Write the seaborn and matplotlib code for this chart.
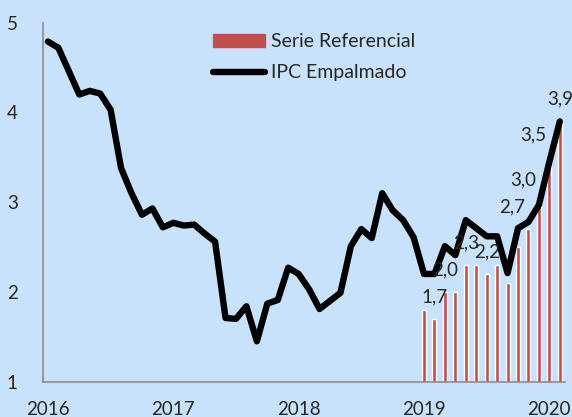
import numpy as np
import pandas as pd
import matplotlib
matplotlib.use("Agg")
import matplotlib.pyplot as plt
import seaborn as sns
from matplotlib.patches import Patch
from matplotlib.lines import Line2D

# === data ===
months = pd.date_range("2016-01-01", "2020-02-01", freq="MS")
ipc_empalmado = [
    4.79, 4.72, 4.46, 4.20, 4.24, 4.21, 4.03, 3.38, 3.10, 2.86, 2.93, 2.72,
    2.77, 2.74, 2.75, 2.65, 2.56, 1.71, 1.70, 1.84, 1.45, 1.87, 1.91, 2.27,
    2.20, 2.03, 1.81, 1.90, 1.99, 2.51, 2.70, 2.60, 3.10, 2.91, 2.80, 2.61,
    2.20, 2.20, 2.51, 2.41, 2.80, 2.71, 2.62, 2.62, 2.21, 2.71, 2.78, 2.97,
    3.45, 3.90,
]
ref_months = pd.date_range("2019-01-01", "2020-02-01", freq="MS")
serie_referencial = [1.8, 1.7, 2.0, 2.0, 2.3, 2.3, 2.2, 2.3, 2.1, 2.5, 2.7, 3.0, 3.5, 3.9]
label_months = ["2019-02", "2019-03", "2019-05", "2019-07", "2019-11", "2019-12", "2020-01", "2020-02"]
label_shift = [0, 0, 0, 0, -16, -16, -16, 0]  # px, to the left of the bar
year_labels = ["2016", "2017", "2018", "2019", "2020"]

bg = "#C8E2FC"
bar_color = "#C0504D"
axis_grey = "#8C8C8C"
fs = 13.5

sns.set_style("white")
plt.rcParams["font.family"] = ["Lato", "DejaVu Sans"]

line_df = pd.DataFrame({"pos": np.arange(len(months)), "IPC": ipc_empalmado})
bar_df = pd.DataFrame({"pos": months.get_indexer(ref_months), "Serie": serie_referencial})

fig = plt.figure(figsize=(5.72, 4.17), dpi=100, facecolor=bg)
ax = fig.add_axes([0.0747, 0.0847, 0.9131, 0.8609])
ax.set_facecolor(bg)

sns.barplot(data=bar_df, x="pos", y="Serie", native_scale=True, width=0.38,
            color=bar_color, saturation=1, ax=ax)
sns.lineplot(data=line_df, x="pos", y="IPC", color="black", linewidth=4.6,
             ax=ax, solid_joinstyle="round", solid_capstyle="round")

# data labels on the reference series
ref_lookup = dict(zip(ref_months.strftime("%Y-%m"), serie_referencial))
for m, dx in zip(label_months, label_shift):
    v = ref_lookup[m]
    p = months.get_loc(pd.Timestamp(m + "-01"))
    ax.annotate(f"{v:.1f}".replace(".", ","), (p, v), xytext=(dx * 0.72, 16),
                textcoords="offset points", ha="center", va="center", fontsize=fs)

ax.set_xlim(-0.5, len(months) - 0.5)
ax.set_ylim(1, 5)
ax.set_yticks([1, 2, 3, 4, 5])
ax.set_xticks(np.arange(len(months) + 1) - 0.5)
ax.set_xticklabels([])
jan_pos = [months.get_loc(pd.Timestamp(y + "-01-01")) for y in year_labels]
ax.set_xticks(jan_pos, minor=True)
ax.set_xticklabels(year_labels, minor=True)
ax.set_xlabel("")
ax.set_ylabel("")

ax.tick_params(axis="x", which="major", length=6, width=1.2, color=axis_grey, direction="out")
ax.tick_params(axis="x", which="minor", length=0, pad=14, labelsize=fs)
ax.tick_params(axis="y", length=7, width=1.2, color=axis_grey, direction="out", pad=11, labelsize=fs)

for s in ["top", "right"]:
    ax.spines[s].set_visible(False)
for s in ["left", "bottom"]:
    ax.spines[s].set_color(axis_grey)
    ax.spines[s].set_linewidth(1.2)

handles = [Patch(color=bar_color, label="Serie Referencial"),
           Line2D([0], [0], color="black", linewidth=4.6, solid_capstyle="round", label="IPC Empalmado")]
ax.legend(handles=handles, loc="upper left", bbox_to_anchor=(0.326, 0.97), frameon=False,
          fontsize=14, handlelength=2.7, handletextpad=0.3, labelspacing=0.72, borderpad=0,
          borderaxespad=0)

fig.savefig("out.png", dpi=100, facecolor=bg)
